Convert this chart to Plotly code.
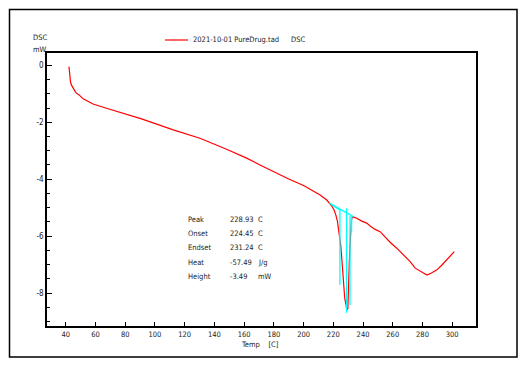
import plotly.graph_objects as go

# ---------------- data ----------------
temp = [42.2, 42.7, 43.2, 43.8, 44.5, 46.1, 47.2, 49.0, 51.7, 58.4, 67.4, 78.6, 91.0,
        112.3, 130.3, 148.2, 161.7, 170.7, 180.0, 190.0, 200.0, 205.5, 211.1, 215.6,
        219.0, 220.5, 221.7, 222.8, 223.9, 225.0, 225.7, 226.4, 227.1, 227.7, 228.6,
        229.1, 229.8, 230.0, 230.4, 230.8, 231.3, 231.8, 232.2, 232.9, 235.8, 239.2,
        242.5, 244.8, 248.1, 251.5, 254.9, 258.2, 262.7, 267.2, 271.7, 275.1, 279.6,
        283.0, 286.3, 289.7, 293.1, 296.4, 299.8, 301.4]
dsc = [-0.05, -0.40, -0.58, -0.69, -0.77, -0.90, -0.98, -1.04, -1.18, -1.36, -1.51, -1.68, -1.88,
       -2.27, -2.56, -2.95, -3.26, -3.50, -3.74, -3.99, -4.22, -4.38, -4.55, -4.73,
       -4.94, -5.08, -5.25, -5.49, -5.84, -6.31, -6.77, -7.36, -7.82, -8.18, -8.41,
       -8.59, -8.53, -7.94, -7.47, -6.89, -6.30, -5.84, -5.43, -5.31, -5.37, -5.47,
       -5.54, -5.64, -5.76, -5.84, -6.04, -6.21, -6.42, -6.66, -6.89, -7.12, -7.26,
       -7.36, -7.28, -7.18, -7.01, -6.83, -6.62, -6.54]

# peak evaluation construction lines (baseline, onset, peak, endset)
eval_t = [217.4, 233.5, None, 219.0, 224.45, 224.45, None, 228.93, 228.93, None,
          231.24, 231.24, None, 232.3, 232.3]
eval_y = [-4.84, -5.31, None, -4.90, -5.08, -7.70, None, -5.02, -8.69, None,
          -5.28, -8.41, None, -5.30, -5.84]

x_ticks = [40, 60, 80, 100, 120, 140, 160, 180, 200, 220, 240, 260, 280, 300]
y_ticks = [0, -2, -4, -6, -8]
y_tick_text = ["0", "-2", "-4", "-6", "-8"]

result_labels = ["Peak", "Onset", "Endset", "Heat", "Height"]
result_values = ["228.93", "224.45", "231.24", "-57.49", "-3.49"]
result_units = ["C", "C", "C", "J/g", "mW"]

series_name = "2021-10-01 PureDrug.tad"
signal_name = "DSC"

# ---------------- figure ----------------
FONT = "DejaVu Sans Condensed, Liberation Sans, Arial, sans-serif"
TXT = "#222222"
W, H = 525, 365
ML, MR, MT, MB = 47, 49, 53, 39
PW, PH = W - ML - MR, H - MT - MB

def xp(px):
    return (px - ML) / PW

def yp(py):
    return (H - MB - py) / PH

fig = go.Figure()
fig.add_trace(go.Scatter(x=temp, y=dsc, mode="lines", name=series_name,
                         line=dict(color="#ff0000", width=1.2), showlegend=False))
fig.add_trace(go.Scatter(x=eval_t, y=eval_y, mode="lines", name="evaluation",
                         line=dict(color="#00ffff", width=1.3), showlegend=False,
                         connectgaps=False))

fig.update_layout(
    width=W, height=H,
    margin=dict(l=ML, r=MR, t=MT, b=MB, pad=0),
    paper_bgcolor="white", plot_bgcolor="white",
    font=dict(family=FONT, size=8, color=TXT),
    showlegend=False,
)
fig.update_xaxes(range=[27.4, 316], tickvals=x_ticks, ticks="inside", ticklen=4,
                 tickcolor="black", tickwidth=1, showline=True, linecolor="black",
                 linewidth=1.6, mirror=True, showgrid=False, zeroline=False,
                 automargin=False, tickfont=dict(family=FONT, size=7.5, color=TXT))
fig.update_yaxes(range=[-9.15, 0.43], tickvals=y_ticks, ticktext=y_tick_text,
                 ticks="inside", ticklen=5, tickcolor="black", tickwidth=1,
                 minor=dict(dtick=0.5, tick0=0, ticks="inside", ticklen=3,
                            tickcolor="black", tickwidth=1, showgrid=False),
                 showline=True, linecolor="black", linewidth=1.6, mirror=True,
                 showgrid=False, zeroline=False, automargin=False,
                 tickfont=dict(family=FONT, size=8, color=TXT))

shapes = [
    # outer frame
    dict(type="rect", xref="paper", yref="paper", x0=xp(9.5), x1=xp(517),
         y0=yp(357), y1=yp(9.5), line=dict(color="black", width=1.5)),
    # legend sample line
    dict(type="line", xref="paper", yref="paper", x0=xp(165), x1=xp(188),
         y0=yp(40), y1=yp(40), line=dict(color="#ff0000", width=1.2)),
]
fig.update_layout(shapes=shapes)

ann = []
ann.append(dict(text=series_name, x=xp(191), y=yp(40), xanchor="left", yanchor="middle"))
ann.append(dict(text=signal_name, x=xp(289), y=yp(40), xanchor="left", yanchor="middle"))
ann.append(dict(text="DSC", x=xp(31), y=yp(37), xanchor="left", yanchor="middle"))
ann.append(dict(text="mW", x=xp(31), y=yp(49), xanchor="left", yanchor="middle"))
ann.append(dict(text="Temp&nbsp;&nbsp;&nbsp;&nbsp;[C]", x=xp(260), y=yp(344), xanchor="center", yanchor="middle"))
row_y = [219, 233.4, 247.8, 262.2, 276.6]
for lab, val, unit, ry in zip(result_labels, result_values, result_units, row_y):
    ann.append(dict(text=lab, x=xp(185.5), y=yp(ry), xanchor="left", yanchor="middle"))
    ann.append(dict(text=val, x=xp(227.5), y=yp(ry), xanchor="left", yanchor="middle"))
    ann.append(dict(text=unit, x=xp(255.5), y=yp(ry), xanchor="left", yanchor="middle"))
for a in ann:
    a.update(xref="paper", yref="paper", showarrow=False,
             font=dict(family=FONT, size=7.5, color=TXT))
fig.update_layout(annotations=ann)

fig.write_html("out.html", config={"displayModeBar": False},
               post_script="document.body.style.margin='0';")
